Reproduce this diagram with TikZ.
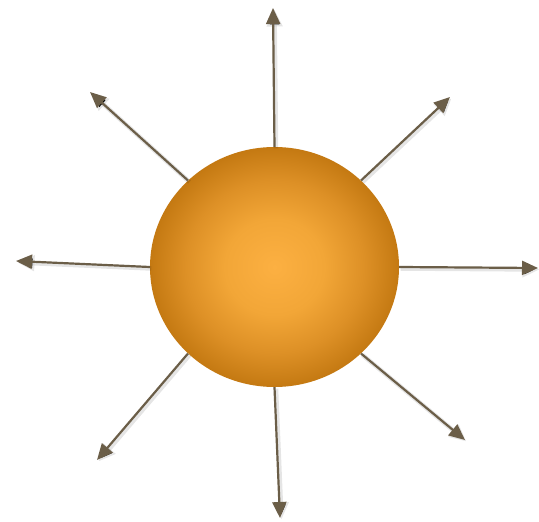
\documentclass[tikz,border=0pt]{standalone}
\usetikzlibrary{arrows.meta,shapes.geometric}
\definecolor{raycol}{HTML}{6B5E48}
\definecolor{suninner}{HTML}{FCB042}
\definecolor{sunmida}{HTML}{F2A637}
\definecolor{sunmidb}{HTML}{DD9026}
\definecolor{sunouter}{HTML}{C47912}
\pgfdeclareradialshading{sunshade}{\pgfpoint{0bp}{0bp}}{%
  color(0bp)=(suninner); color(10bp)=(sunmida); color(18bp)=(sunmidb); color(25bp)=(sunouter); color(50bp)=(sunouter)}
\tikzset{
  ray/.style={draw=raycol, line width=2.2pt, -{Triangle[width=14pt,length=16pt]},
    preaction={draw=black, draw opacity=0.10, line width=4.5pt, transform canvas={xshift=1.5pt,yshift=-1.5pt}, -{Triangle[width=15pt,length=17pt]}}},
  sun/.style={ellipse, minimum width=249pt, minimum height=240pt, inner sep=0pt,
    shading=sunshade}
}
\begin{document}
\begin{tikzpicture}[x=1pt,y=-1pt]
\useasboundingbox (0,0) rectangle (539,522);
\node[sun] (s) at (274.5,267) {};
\coordinate (tN) at (273,8);
\coordinate (tNE) at (450,97);
\coordinate (tE) at (538,268);
\coordinate (tSE) at (465,440);
\coordinate (tS) at (280,518);
\coordinate (tSW) at (97,460);
\coordinate (tW) at (16,261);
\coordinate (tNW) at (90,92);
\foreach \a/\t in {90/tN,45/tNE,0/tE,-45/tSE,-90/tS,-135/tSW,180/tW,135/tNW}{
  \draw[ray] (s.\a) -- (\t);
}
\end{tikzpicture}
\end{document}
